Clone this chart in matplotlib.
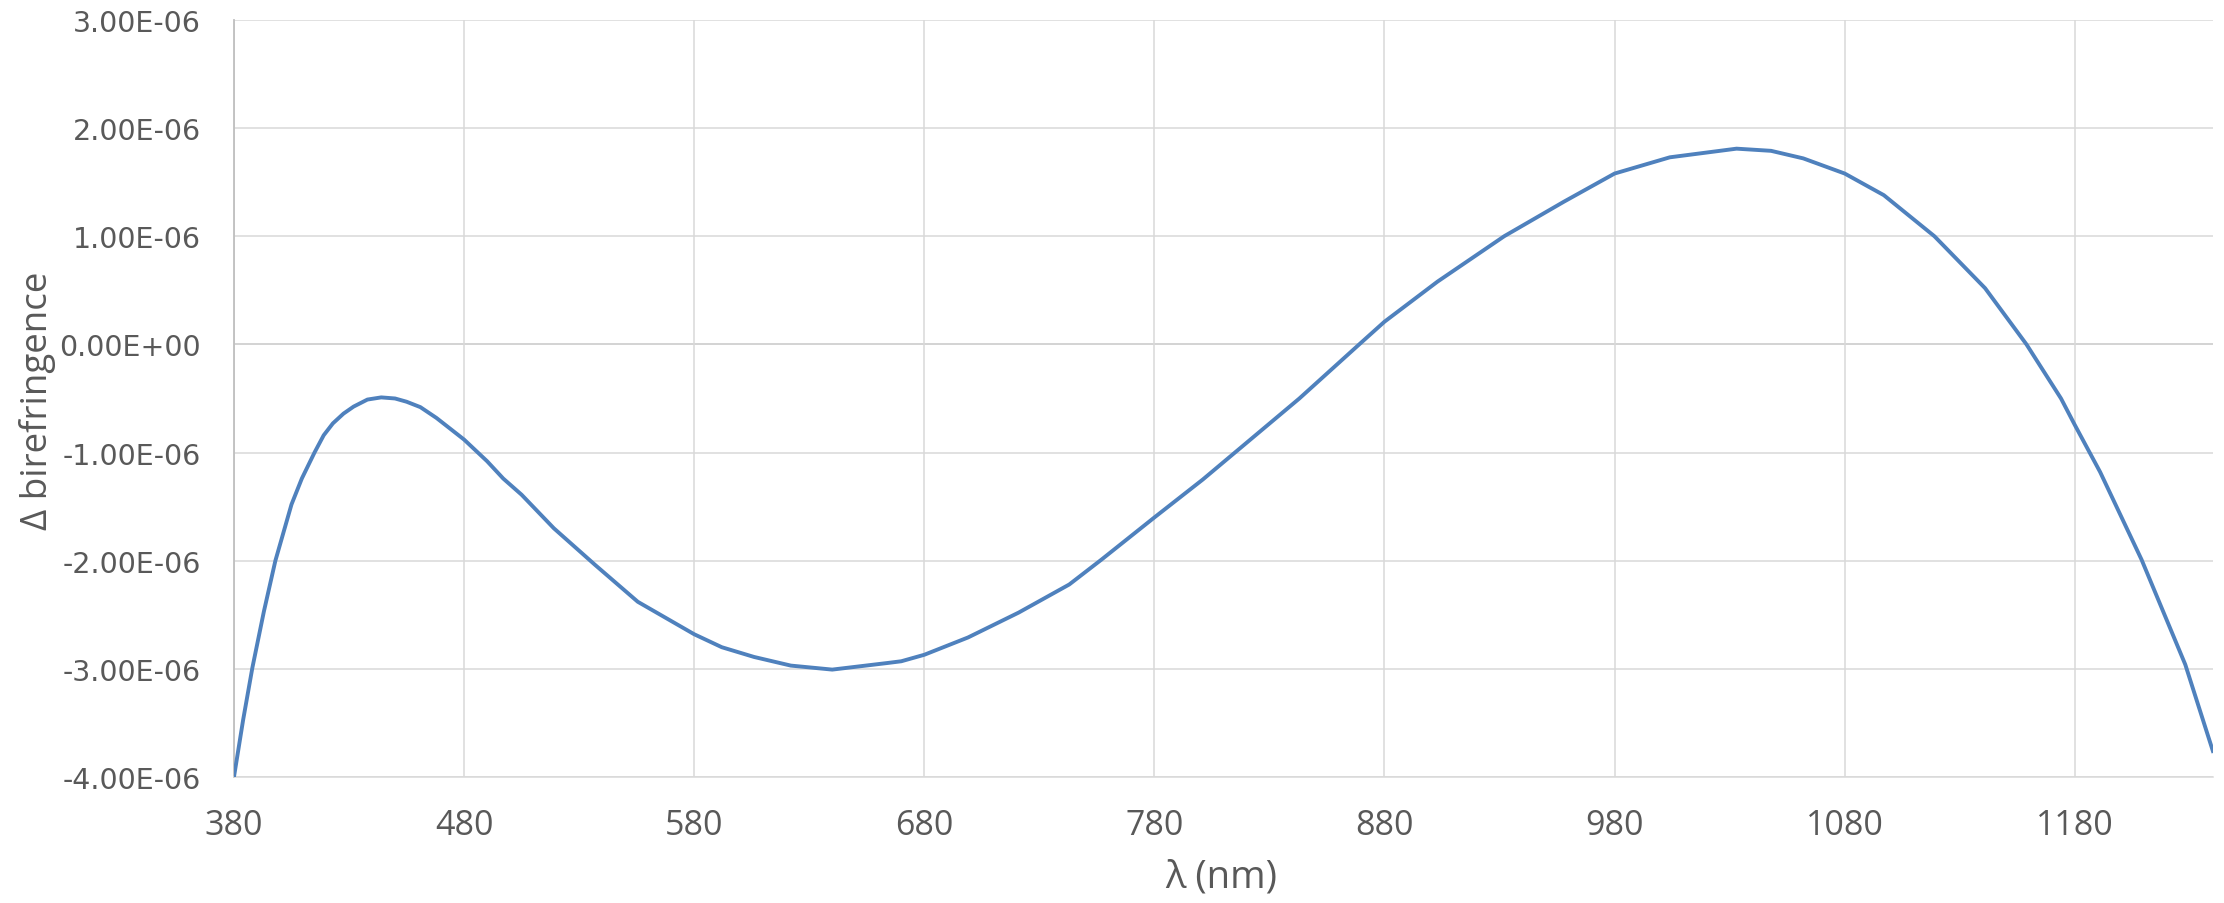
import numpy as np
import matplotlib.pyplot as plt
from matplotlib.ticker import FuncFormatter

# wavelength (nm) and change in birefringence (x1e-6)
wavelength = [380, 384, 388, 393, 398, 405, 409.5, 415, 419, 423, 427.6, 432, 438, 444,
              450, 455, 461, 468, 480, 490, 497, 505, 519, 537, 555.5, 580, 592, 606,
              622, 640, 664, 670, 680, 699, 721, 743, 757, 780, 801, 815, 843, 869,
              880, 903, 932, 958, 980, 1004, 1033, 1048, 1062, 1080, 1097, 1119, 1141,
              1159, 1174, 1180, 1191, 1209, 1228, 1240]
delta_bf = [-4.00, -3.47, -2.99, -2.47, -2.00, -1.48, -1.24, -1.00, -0.84, -0.73, -0.64,
            -0.575, -0.51, -0.49, -0.50, -0.53, -0.58, -0.68, -0.88, -1.08, -1.24, -1.39,
            -1.70, -2.04, -2.38, -2.68, -2.80, -2.89, -2.97, -3.007, -2.946, -2.93, -2.87,
            -2.71, -2.48, -2.22, -1.99, -1.60, -1.25, -1.00, -0.50, 0.00, 0.21, 0.58,
            1.00, 1.32, 1.58, 1.73, 1.81, 1.79, 1.72, 1.58, 1.38, 1.00, 0.52, 0.00,
            -0.50, -0.745, -1.18, -1.99, -2.96, -3.76]

x_ticks = [380, 480, 580, 680, 780, 880, 980, 1080, 1180]
y_ticks = [-4e-6, -3e-6, -2e-6, -1e-6, 0, 1e-6, 2e-6, 3e-6]

grid_col = '#D9D9D9'
axis_col = '#BFBFBF'
text_col = '#595959'

fig = plt.figure(figsize=(22.24, 9.04), dpi=100)
ax = fig.add_axes([0.1052, 0.1394, 0.8898, 0.8374])

x = np.array(wavelength)
y = np.array(delta_bf) * 1e-6
ax.plot(x, y, color='#4F81BD', lw=2.8, solid_joinstyle='round', zorder=3)

ax.set_xlim(380, 1240)
ax.set_ylim(-4e-6, 3e-6)
ax.set_xticks(x_ticks)
ax.set_yticks(y_ticks)

def sci(v, pos):
    m, e = f'{v:.2E}'.split('E')
    return f'{m}E{e}'
ax.yaxis.set_major_formatter(FuncFormatter(sci))

ax.grid(True, color=grid_col, lw=1.1, zorder=0)
ax.axhline(0, color=axis_col, lw=1.3, zorder=1)
for side in ['top', 'right']:
    ax.spines[side].set_visible(False)
ax.spines['left'].set_color(axis_col)
ax.spines['left'].set_linewidth(1.3)
ax.spines['bottom'].set_color(grid_col)
ax.spines['bottom'].set_linewidth(1.1)

ax.tick_params(axis='both', length=0, colors=text_col)
ax.tick_params(axis='y', pad=24, labelsize=20.5)
ax.tick_params(axis='x', pad=22, labelsize=24.5)
for lab in ax.get_yticklabels():
    lab.set_family('DejaVu Sans')
for lab in ax.get_xticklabels():
    lab.set_family('Open Sans')

fig.text(0.0169, 0.557, 'Δ birefringence', rotation=90, ha='center', va='center',
         fontsize=26.5, color=text_col, family='Open Sans')
fig.text(0.549, 0.029, 'λ (nm)', ha='center', va='center',
         fontsize=27.5, color=text_col, family='Open Sans')

fig.savefig('out.png', dpi=100, facecolor='white')
